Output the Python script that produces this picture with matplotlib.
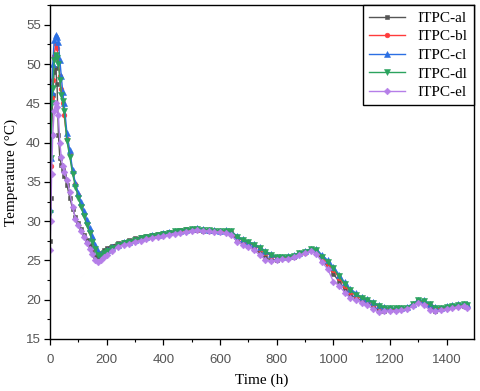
import numpy as np
import matplotlib
matplotlib.use("Agg")
from matplotlib import pyplot as plt
from matplotlib.ticker import MultipleLocator

# time axis (h): dense at the start, then every 20 h
time_early = [0, 3, 6, 10, 15, 20, 25, 30, 35, 40, 45, 50, 60, 70, 80, 90,
              100, 110, 120, 130, 140, 150, 160, 170, 180, 190]
time_late = list(range(200, 1461, 20)) + [1470]
time = time_early + time_late

#ITPC-al
al_early = [27.5, 33.0, 41.0, 46.0, 49.0, 49.5, 47.5, 41.0, 38.0, 37.2, 36.5, 35.8, 34.6,
            33.0, 31.6, 30.5, 29.8, 29.0, 28.3, 27.6, 27.0, 26.3, 25.6, 25.5, 25.9, 26.3]
al_late = [26.6, 26.9, 27.2, 27.4, 27.6, 27.8, 28.0, 28.1, 28.3, 28.4, 28.5, 28.6, 28.8,
           28.9, 29.0, 29.0, 28.9, 28.8, 28.8, 28.7, 28.7, 28.6, 28.4, 27.6, 27.2, 26.9,
           26.5, 26.0, 25.4, 25.0, 25.1, 25.3, 25.3, 25.5, 25.8, 26.1, 26.4, 26.0, 25.1,
           24.2, 23.3, 22.3, 21.3, 20.6, 20.2, 19.9, 19.7, 19.2, 18.6, 18.6, 18.7, 18.7,
           18.8, 18.9, 19.3, 19.8, 19.6, 19.0, 18.6, 18.8, 19.0, 19.1, 19.2, 19.2, 19.1]

#ITPC-bl
bl_early = [30.0, 37.0, 45.7, 48.0, 51.0, 52.5, 52.0, 50.5, 48.5, 46.8, 45.0, 43.5, 40.5,
            38.5, 36.3, 34.7, 33.3, 32.0, 30.9, 29.8, 28.7, 27.7, 26.6, 25.9, 25.7, 26.0]
bl_late = [26.1, 26.5, 26.9, 27.1, 27.3, 27.5, 27.7, 27.9, 28.0, 28.2, 28.3, 28.5, 28.6,
           28.7, 28.8, 28.9, 28.9, 28.9, 28.8, 28.8, 28.7, 28.7, 28.6, 27.9, 27.5, 27.2,
           26.9, 26.5, 26.0, 25.6, 25.3, 25.3, 25.4, 25.6, 25.8, 26.0, 26.3, 26.2, 25.3,
           24.6, 23.8, 22.8, 21.8, 21.0, 20.5, 20.1, 19.9, 19.5, 19.1, 18.9, 18.8, 18.8,
           18.8, 18.9, 19.3, 19.8, 19.7, 19.3, 18.9, 18.9, 19.0, 19.1, 19.2, 19.3, 19.2]

#ITPC-cl
cl_early = [31.5, 38.0, 46.5, 50.0, 53.0, 53.7, 53.5, 52.8, 50.5, 48.5, 46.5, 45.0, 41.2,
            39.0, 36.5, 34.8, 33.6, 32.4, 31.3, 30.2, 29.1, 28.1, 27.0, 26.2, 25.8, 26.0]
cl_late = [26.3, 26.7, 27.0, 27.3, 27.4, 27.6, 27.9, 28.0, 28.2, 28.3, 28.5, 28.6, 28.7,
           28.8, 28.9, 29.0, 29.1, 29.0, 28.9, 28.9, 28.8, 28.9, 28.7, 28.1, 27.7, 27.4,
           27.1, 26.7, 26.2, 25.8, 25.5, 25.5, 25.6, 25.7, 26.0, 26.2, 26.5, 26.4, 25.7,
           25.0, 24.2, 23.2, 22.2, 21.4, 20.8, 20.3, 20.1, 19.7, 19.3, 19.1, 19.0, 18.9,
           19.0, 19.1, 19.5, 20.0, 19.9, 19.5, 19.1, 19.0, 19.2, 19.3, 19.4, 19.5, 19.4]

#ITPC-dl
dl_early = [31.0, 38.0, 45.0, 47.0, 50.5, 51.2, 50.8, 50.0, 48.0, 46.0, 45.3, 44.0, 40.2,
            38.2, 36.0, 34.4, 33.0, 31.8, 30.6, 29.5, 28.5, 27.4, 26.4, 25.7, 25.6, 25.9]
dl_late = [26.2, 26.6, 27.0, 27.2, 27.4, 27.6, 27.8, 28.0, 28.1, 28.3, 28.4, 28.5, 28.7,
           28.8, 28.9, 29.0, 29.0, 28.9, 28.9, 28.8, 28.8, 28.8, 28.7, 28.0, 27.6, 27.3,
           27.0, 26.6, 26.1, 25.7, 25.4, 25.4, 25.5, 25.6, 25.9, 26.1, 26.4, 26.3, 25.5,
           24.8, 24.0, 23.0, 22.0, 21.2, 20.6, 20.2, 20.0, 19.6, 19.2, 19.0, 18.9, 18.9,
           18.9, 19.0, 19.4, 19.9, 19.8, 19.4, 19.0, 19.0, 19.1, 19.2, 19.3, 19.4, 19.3]

#ITPC-el
el_early = [26.3, 30.0, 36.0, 41.0, 44.0, 45.0, 44.5, 43.5, 40.0, 38.2, 37.0, 36.3, 35.3,
            33.7, 31.8, 30.3, 29.5, 28.7, 28.0, 27.2, 26.5, 25.8, 25.1, 24.8, 25.1, 25.4]
el_late = [25.7, 26.2, 26.7, 27.0, 27.1, 27.4, 27.5, 27.7, 27.9, 28.0, 28.1, 28.3, 28.4,
           28.5, 28.6, 28.8, 28.9, 28.8, 28.7, 28.6, 28.6, 28.5, 28.2, 27.4, 27.0, 26.7,
           26.3, 25.7, 25.1, 24.9, 25.0, 25.2, 25.2, 25.4, 25.7, 25.9, 26.2, 25.8, 24.8,
           23.9, 22.3, 21.8, 20.9, 20.2, 19.9, 19.6, 19.3, 18.8, 18.4, 18.5, 18.6, 18.6,
           18.7, 18.8, 19.2, 19.6, 19.3, 18.7, 18.5, 18.7, 18.8, 18.9, 19.1, 19.2, 19.0]

labels = ['ITPC-al', 'ITPC-bl', 'ITPC-cl', 'ITPC-dl', 'ITPC-el']
series = [al_early + al_late, bl_early + bl_late, cl_early + cl_late,
          dl_early + dl_late, el_early + el_late]
colors = ['#555555', '#ff3b3b', '#2b6fe3', '#2ba35e', '#b57ee8']
markers = ['s', 'o', '^', 'v', 'D']
msizes = [3.2, 3.4, 4.0, 4.0, 3.4]

plt.rcParams['font.family'] = 'Liberation Serif'

#%%
fig = plt.figure(figsize=(4.8, 3.91), dpi=100)
ax = fig.add_axes([0.104, 0.133, 0.883, 0.854])

for y, lab, c, m, ms in zip(series, labels, colors, markers, msizes):
    ax.plot(time, y, color=c, marker=m, markersize=ms, linewidth=1.0,
            markeredgewidth=0.4, label=lab)

#Formatting
ax.set_xlim(0, 1495)
ax.set_ylim(15, 57.5)
ax.xaxis.set_major_locator(MultipleLocator(200))
ax.xaxis.set_minor_locator(MultipleLocator(100))
ax.yaxis.set_major_locator(MultipleLocator(5))
ax.yaxis.set_minor_locator(MultipleLocator(2.5))
ax.tick_params(which='major', direction='out', length=4.5, width=0.9,
               labelsize=9.5, labelcolor='#555555', pad=2)
ax.tick_params(which='minor', direction='out', length=2.5, width=0.8)
ax.tick_params(axis='x', which='major', pad=6)
for lbl in ax.get_xticklabels() + ax.get_yticklabels():
    lbl.set_family('Liberation Sans')
for s in ax.spines.values():
    s.set_linewidth(1.0)

ax.set_xlabel('Time (h)', fontsize=11, labelpad=6)
ax.set_ylabel('Temperature (\u00b0C)', fontsize=11, labelpad=6)

leg = ax.legend(loc='upper right', fontsize=11, frameon=True, fancybox=False,
                edgecolor='black', framealpha=1, borderaxespad=0,
                handlelength=2.4, labelspacing=0.32, borderpad=0.4,
                handletextpad=0.8)
leg.get_frame().set_linewidth(1.0)

plt.savefig("out.png", dpi=100)
